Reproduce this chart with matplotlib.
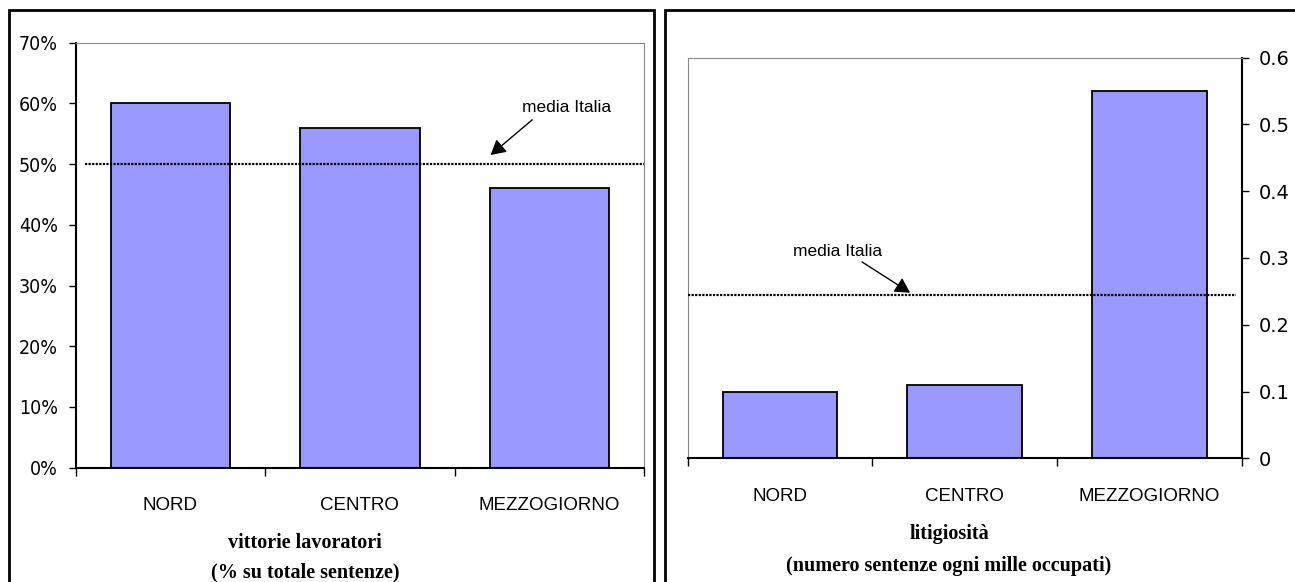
import matplotlib
matplotlib.use("Agg")
import matplotlib.pyplot as plt
import matplotlib.patches as patches
from matplotlib.ticker import FuncFormatter, FixedLocator

# data
regioni = ["NORD", "CENTRO", "MEZZOGIORNO"]
vittorie = [60, 56, 46]          # % su totale sentenze
vittorie_media = 50
litigiosita = [0.10, 0.11, 0.55]  # sentenze ogni mille occupati
litigiosita_media = 0.245

W, H = 1295, 582
bar_col = "#9999FF"
narrow = dict(family="DejaVu Sans", stretch="condensed")
sans = ["Liberation Sans", "DejaVu Sans"]
serif = ["Liberation Serif", "DejaVu Serif"]
arrow = dict(arrowstyle="-|>,head_length=0.45,head_width=0.25", color="black", lw=1,
             mutation_scale=20, shrinkA=0, shrinkB=0)

fig = plt.figure(figsize=(W / 100, H / 100), dpi=100)


def px(x0, y0, x1, y1):
    # pixel box -> figure fraction [left, bottom, width, height]
    return [x0 / W, 1 - y1 / H, (x1 - x0) / W, (y1 - y0) / H]


def setup(ax, right=False):
    x = range(len(regioni))
    ax.set_xlim(-0.5, 2.5)
    ax.xaxis.set_major_locator(FixedLocator([-0.5, 0.5, 1.5, 2.5]))
    ax.xaxis.set_minor_locator(FixedLocator(list(x)))
    ax.set_xticklabels([], minor=False)
    ax.set_xticklabels(regioni, minor=True, fontfamily=sans, fontsize=13.5)
    ax.tick_params(axis="x", which="major", direction="out", length=6, width=1, color="black")
    ax.tick_params(axis="x", which="minor", length=0, pad=21)
    ax.tick_params(axis="y", direction="out", length=5, width=1, color="black",
                   labelsize=14, pad=8 if not right else 7)
    for lab in ax.get_yticklabels():
        lab.set_fontfamily(narrow["family"])
        lab.set_fontstretch(narrow["stretch"])
    ax.spines["bottom"].set_color("black")
    ax.spines["bottom"].set_linewidth(1.5)
    ax.spines["top"].set_color("#888888")
    if right:
        ax.yaxis.tick_right()
        ax.spines["right"].set_color("black")
        ax.spines["right"].set_linewidth(1.5)
        ax.spines["left"].set_color("#888888")
    else:
        ax.spines["left"].set_color("black")
        ax.spines["left"].set_linewidth(1.5)
        ax.spines["right"].set_color("#888888")


# left panel: vittorie lavoratori
ax1 = fig.add_axes(px(75.8, 42.7, 644, 467.7))
ax1.bar(range(len(regioni)), vittorie, width=0.63, color=bar_col, edgecolor="black", linewidth=1.3, zorder=2)
ax1.set_ylim(0, 70)
ax1.set_yticks(range(0, 71, 10))
ax1.yaxis.set_major_formatter(FuncFormatter(lambda v, p: f"{v:.0f}%"))
setup(ax1)
ax1.plot([-0.45, 2.5], [vittorie_media, vittorie_media], color="black", lw=1.6,
         linestyle=(0, (1, 0.6)), zorder=3)
ax1.text(2.09, 59.3, "media Italia", ha="center", va="center", fontsize=12.5, fontfamily=sans)
ax1.annotate("", xy=(1.69, 51.5), xytext=(1.91, 57.3), arrowprops=arrow)

# right panel: litigiosita
ax2 = fig.add_axes(px(687.5, 57.5, 1241.6, 458.4))
ax2.bar(range(len(regioni)), litigiosita, width=0.62, color=bar_col, edgecolor="black", linewidth=1.3, zorder=2)
ax2.set_ylim(0, 0.6)
ax2.set_yticks([0, 0.1, 0.2, 0.3, 0.4, 0.5, 0.6])
ax2.yaxis.set_major_formatter(FuncFormatter(lambda v, p: "0" if v == 0 else f"{v:.1f}"))
setup(ax2, right=True)
ax2.plot([-0.5, 2.47], [litigiosita_media, litigiosita_media], color="black", lw=1.6,
         linestyle=(0, (1, 0.6)), zorder=3)
ax2.text(0.31, 0.309, "media Italia", ha="center", va="center", fontsize=12.5, fontfamily=sans)
ax2.annotate("", xy=(0.705, 0.248), xytext=(0.445, 0.294), arrowprops=arrow)

# titles under the axes
fig.text(305 / W, 1 - 543 / H, "vittorie lavoratori", ha="center", va="center",
         fontsize=14.5, fontweight="bold", fontfamily=serif)
fig.text(305 / W, 1 - 572 / H, "(% su totale sentenze)", ha="center", va="center",
         fontsize=14.5, fontweight="bold", fontfamily=serif)
fig.text(949 / W, 1 - 534 / H, "litigiosità", ha="center", va="center",
         fontsize=14.5, fontweight="bold", fontfamily=serif)
fig.text(949 / W, 1 - 566 / H, "(numero sentenze ogni mille occupati)", ha="center", va="center",
         fontsize=14.5, fontweight="bold", fontfamily=serif)

# panel frames
for x0, y0, x1 in [(9, 10, 654.5), (665, 9.5, 1310)]:
    fig.add_artist(patches.Rectangle((x0 / W, -0.1), (x1 - x0) / W, 1.1 - y0 / H,
                                     transform=fig.transFigure, fill=False,
                                     edgecolor="black", linewidth=2, clip_on=False))

fig.savefig("out.png", dpi=100)
